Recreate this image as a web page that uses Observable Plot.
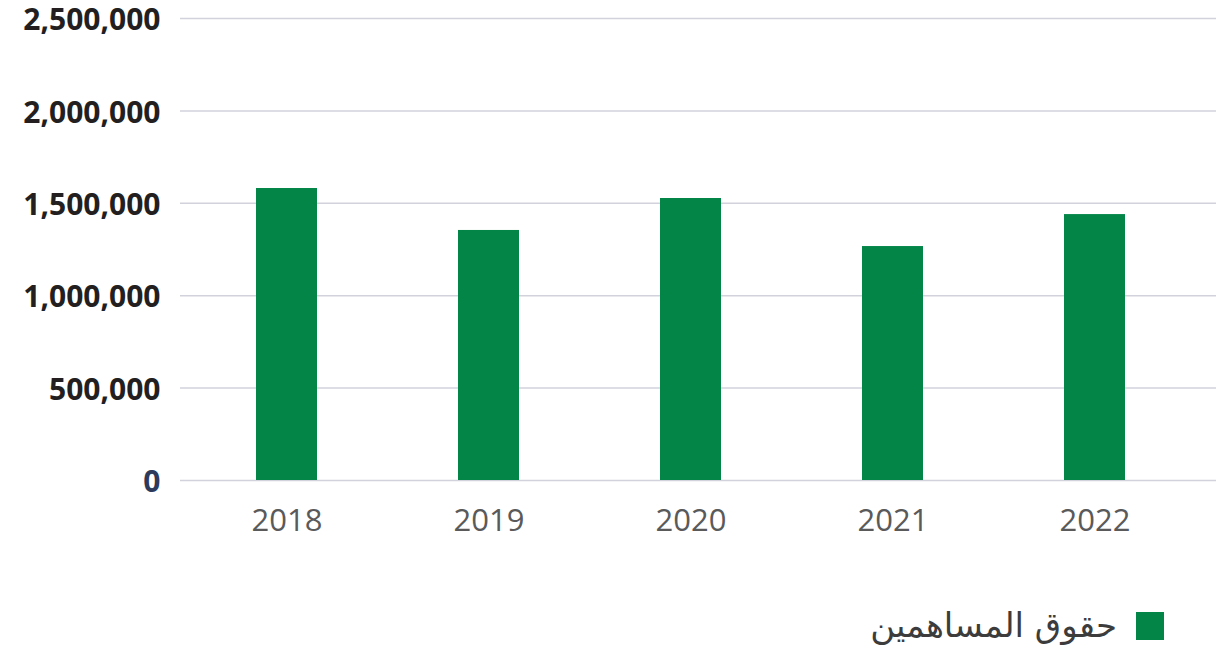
<!DOCTYPE html>
<html>
<head>
<meta charset="utf-8">
<script src="https://cdn.jsdelivr.net/npm/d3@7"></script>
<script src="https://cdn.jsdelivr.net/npm/@observablehq/plot@0.6"></script>
<style>
  html, body { margin: 0; padding: 0; background: #fff; }
  #chart svg { display: block; overflow: visible; }
  .legend {
    display: flex; justify-content: flex-end; align-items: center;
    height: 94px; box-sizing: border-box; padding-top: 36px; padding-right: 54px;
    gap: 19px;
  }
  .legend .label {
    font-family: "DejaVu Sans", sans-serif;
    font-size: 34px; color: #3c3c3c; line-height: 1.5;
    white-space: nowrap;
  }
  .legend .swatch { width: 28px; height: 28px; background: #038547; margin-top: 2px; flex: none; }
</style>
</head>
<body>
<div id="chart"></div>
<div class="legend"><div class="label">حقوق المساهمين</div><div class="swatch"></div></div>
<script>
const years = ["2018", "2019", "2020", "2021", "2022"];
const values = [1580000, 1353000, 1526000, 1266000, 1439000];
const yTicks = [0, 500000, 1000000, 1500000, 2000000, 2500000];
const seriesName = "حقوق المساهمين";

const data = years.map((y, i) => ({year: y, value: values[i]}));

const chart = Plot.plot({
  width: 1218,
  height: 560,
  marginTop: 18,
  marginBottom: 80,
  marginLeft: 180,
  marginRight: 2,
  style: {background: "#fff", fontFamily: "'Open Sans', sans-serif", overflow: "visible"},
  x: {domain: years, range: [184, 1196], paddingInner: 0.7, paddingOuter: 0.35, label: null},
  y: {domain: [0, 2500000], label: null},
  marks: [
    Plot.ruleY(yTicks, {stroke: "#d2d2dc", strokeWidth: 1.5}),
    Plot.barY(data, {x: "year", y: "value", fill: "#038547"}),
    Plot.axisY(yTicks, {
      tickSize: 0, tickPadding: 20, tickFormat: d3.format(","),
      fontSize: 30, fontWeight: "bold", dy: 2,
      fill: d => d === 0 ? "#2e3a5c" : "#231f20",
      label: null
    }),
    Plot.axisX({
      tickSize: 0, tickPadding: 28, fontSize: 31, fill: "#5a5a5a", label: null
    })
  ]
});
document.getElementById("chart").append(chart);
</script>
</body>
</html>
